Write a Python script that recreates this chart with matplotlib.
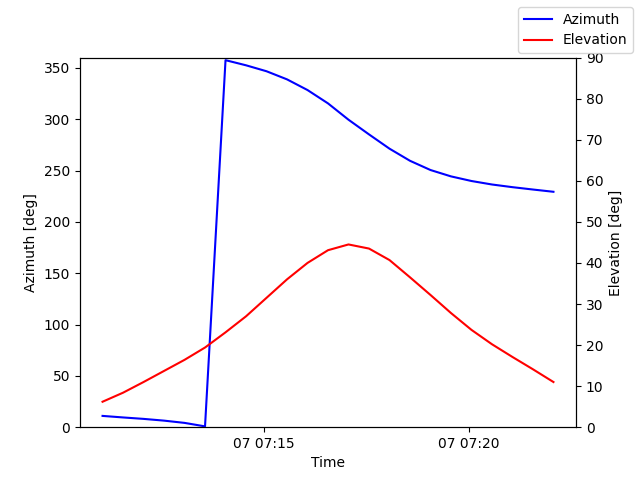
import pandas as pd
import matplotlib
matplotlib.use('Agg')
import matplotlib.pyplot as plt

times = pd.date_range('2024-01-07 07:11:04', periods=23, freq='30s')
azimuth = [11.0, 9.5, 8.1, 6.4, 4.2, 0.8, 357.5, 352.5, 346.7, 338.8, 328.4,
           315.4, 299.5, 285.2, 271.3, 259.5, 250.5, 244.3, 239.8, 236.4,
           233.8, 231.5, 229.3]
elevation = [6.2, 8.4, 11.0, 13.7, 16.4, 19.4, 23.1, 27.0, 31.5, 36.0, 40.0,
             43.1, 44.5, 43.5, 40.7, 36.5, 32.2, 27.8, 23.7, 20.2, 17.1,
             14.1, 11.0]

fig = plt.figure(figsize=(6.4, 4.8), dpi=100)
ax1 = fig.add_subplot(111)
ax2 = ax1.twinx()

ax1.plot(times, azimuth, color='blue', label='Azimuth')
ax2.plot(times, elevation, color='red', label='Elevation')

ax1.set_ylim(0, 360)
ax2.set_ylim(0, 90)
ax1.set_xlabel('Time')
ax1.set_ylabel('Azimuth [deg]')
ax2.set_ylabel('Elevation [deg]')

fig.legend()
fig.savefig('out.png')
